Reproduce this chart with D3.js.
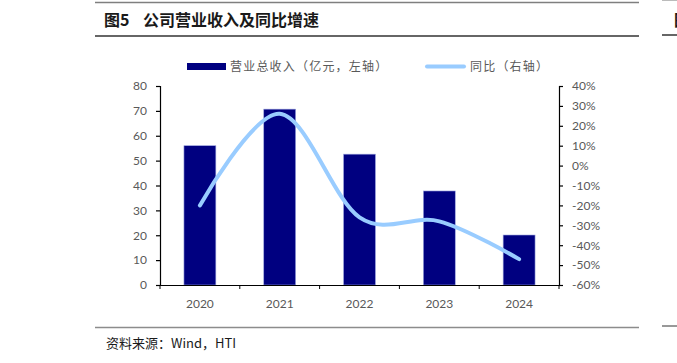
<!DOCTYPE html>
<html>
<head>
<meta charset="utf-8">
<script src="https://cdn.jsdelivr.net/npm/d3@7"></script>
<style>
  body { margin: 0; background: #fff; overflow: hidden; }
  svg { display: block; }
  .tick text { fill: #595959; font-family: Lato, "Noto Sans CJK SC", sans-serif; font-size: 12px; }
</style>
</head>
<body>
<div id="graph"></div>
<script>
"use strict"

var years = ["2020", "2021", "2022", "2023", "2024"]
var revenue = [56, 70.7, 52.6, 37.8, 20.1]
var growth = [-20, 26, -26, -28, -47]
var leftTicks = [0, 10, 20, 30, 40, 50, 60, 70, 80]
var rightTicks = [40, 30, 20, 10, 0, -10, -20, -30, -40, -50, -60]

var width = 677, height = 363
var margin = {top: 86, left: 160, bottom: 78, right: 118}
var chartWidth = width - margin.left - margin.right
var chartHeight = height - margin.top - margin.bottom

main()

function main() {
  let svg = d3.select("#graph").append("svg")
    .attr("width", width).attr("height", height)

  // header and footer rules
  svg.append("line").attr("x1", 95).attr("x2", 639).attr("y1", 2.5).attr("y2", 2.5)
    .attr("stroke", "#7f7f7f").attr("stroke-width", 1.5)
  svg.append("line").attr("x1", 95).attr("x2", 639).attr("y1", 36).attr("y2", 36)
    .attr("stroke", "#333").attr("stroke-width", 1.5)
  svg.append("line").attr("x1", 662).attr("x2", 677).attr("y1", 0.5).attr("y2", 0.5)
    .attr("stroke", "#bbb").attr("stroke-width", 1)
  svg.append("line").attr("x1", 662).attr("x2", 677).attr("y1", 35).attr("y2", 35)
    .attr("stroke", "#333").attr("stroke-width", 1.5)
  svg.append("line").attr("x1", 95).attr("x2", 639).attr("y1", 327.5).attr("y2", 327.5)
    .attr("stroke", "#8c8c8c").attr("stroke-width", 1.5)
  svg.append("line").attr("x1", 662).attr("x2", 677).attr("y1", 326).attr("y2", 326)
    .attr("stroke", "#333").attr("stroke-width", 1)

  let title = svg.append("text").attr("x", 104).attr("y", 26)
    .attr("font-family", "'Noto Sans CJK SC', sans-serif")
    .attr("font-size", 16).attr("font-weight", "bold").attr("fill", "#1a1a1a")
  title.append("tspan").text("图5")
  title.append("tspan").attr("x", 143).attr("letter-spacing", 0).text("公司营业收入及同比增速")

  svg.append("text").attr("x", 674).attr("y", 26)
    .attr("font-family", "'Noto Sans CJK SC', sans-serif")
    .attr("font-size", 16).attr("font-weight", "bold").attr("fill", "#1a1a1a")
    .text("图")

  svg.append("text").attr("x", 106).attr("y", 348)
    .attr("font-family", "'Noto Sans CJK SC', sans-serif")
    .attr("font-size", 13).attr("fill", "#1a1a1a")
    .text("资料来源：Wind，HTI")

  let chartLayer = svg.append("g")
    .attr("transform", "translate(" + [margin.left, margin.top] + ")")

  let x = d3.scaleBand().domain(years).range([0, chartWidth]).paddingInner(0.6).paddingOuter(0.3)
  let xb = d3.scaleBand().domain(years).range([0, chartWidth])
  let yL = d3.scaleLinear().domain([0, 80]).range([chartHeight, 0])
  let yR = d3.scaleLinear().domain([-60, 40]).range([chartHeight, 0])

  chartLayer.selectAll(".bar")
    .data(years)
    .enter().append("rect")
    .attr("class", "bar")
    .attr("x", function(d) { return x(d) })
    .attr("width", x.bandwidth())
    .attr("y", function(d, i) { return yL(revenue[i]) })
    .attr("height", function(d, i) { return chartHeight - yL(revenue[i]) })
    .attr("fill", "#000080")
    .attr("stroke", "#9fa8e0").attr("stroke-width", 0.6)

  let line = d3.line()
    .x(function(d, i) { return xb(years[i]) + xb.bandwidth() / 2 })
    .y(function(d) { return yR(d) })
    .curve(d3.curveCardinal.tension(0))

  chartLayer.append("path")
    .datum(growth)
    .attr("d", line)
    .attr("fill", "none")
    .attr("stroke", "#99ccff")
    .attr("stroke-width", 4)
    .attr("stroke-linecap", "round")

  // axes
  chartLayer.append("g")
    .call(d3.axisLeft(yL).tickValues(leftTicks).tickSize(4).tickPadding(9))
  chartLayer.append("g")
    .attr("transform", "translate(" + chartWidth + ",0)")
    .call(d3.axisRight(yR).tickValues(rightTicks).tickSize(4).tickPadding(9)
      .tickFormat(function(d) { return d + "%" }))
  let bottomAxis = chartLayer.append("g")
    .attr("transform", "translate(0," + chartHeight + ")")
    .call(d3.axisBottom(xb).tickSize(0).tickPadding(12))
  bottomAxis.selectAll(".tick text").attr("dy", "0.9em")

  let bounds = years.map(function(d) { return xb(d) }).concat([chartWidth])
  chartLayer.selectAll(".xtick")
    .data(bounds)
    .enter().append("line")
    .attr("x1", function(d) { return d }).attr("x2", function(d) { return d })
    .attr("y1", chartHeight).attr("y2", chartHeight + 4)
    .attr("stroke", "#000")

  chartLayer.selectAll(".domain, .tick line").attr("stroke", "#000").attr("stroke-width", 1.2)

  // legend
  let legend = svg.append("g").attr("font-family", "'Noto Sans CJK SC', sans-serif")
    .attr("font-size", 12).attr("fill", "#595959")
  legend.append("rect").attr("x", 187).attr("y", 63).attr("width", 39).attr("height", 7)
    .attr("fill", "#000080")
  legend.append("text").attr("x", 230).attr("y", 70.5).attr("letter-spacing", 1.2)
    .text("营业总收入（亿元，左轴）")
  legend.append("line").attr("x1", 427).attr("x2", 464).attr("y1", 66.5).attr("y2", 66.5)
    .attr("stroke", "#99ccff").attr("stroke-width", 4).attr("stroke-linecap", "round")
  legend.append("text").attr("x", 470).attr("y", 70.5).attr("letter-spacing", 1.2)
    .text("同比（右轴）")
}
</script>
</body>
</html>
